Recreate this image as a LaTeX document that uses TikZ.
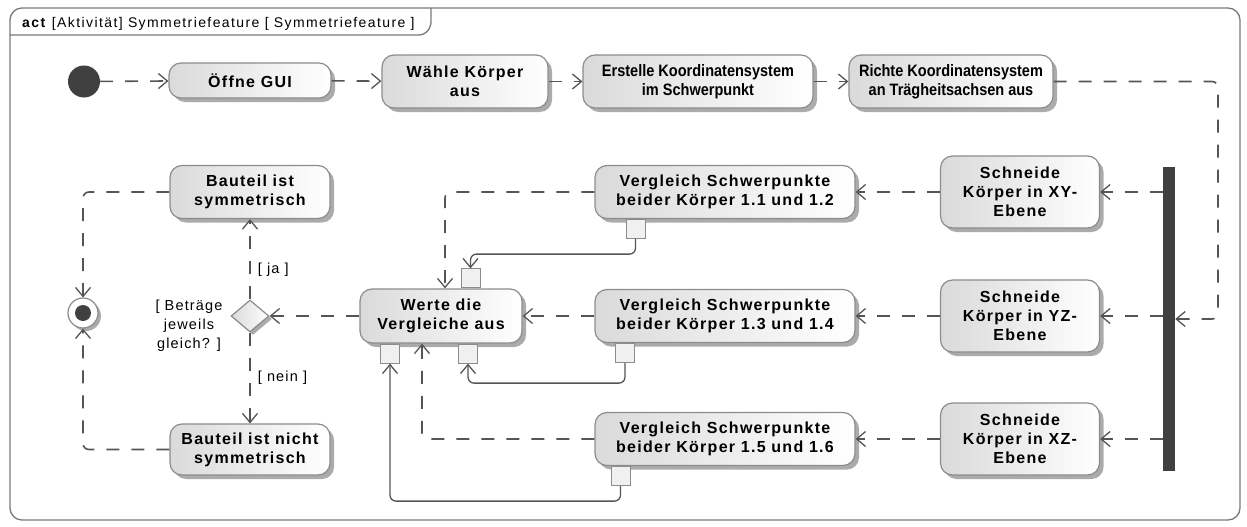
\documentclass[tikz,border=0pt]{standalone}
\usepackage{fontspec}
\setmainfont{Liberation Sans}[LetterSpace=8]
\newfontfamily\condfamily{Liberation Sans}[FakeStretch=0.88]
\newfontfamily\titlefamily{Liberation Sans}[LetterSpace=10]
\usetikzlibrary{arrows.meta,shapes.geometric,shadows,calc}

\definecolor{edgegray}{HTML}{8C8C8C}
\definecolor{flowgray}{HTML}{555555}
\definecolor{shadowgray}{HTML}{ABABAB}
\definecolor{inkgray}{HTML}{404040}
\definecolor{fillgray}{HTML}{DADADA}
\definecolor{framegray}{HTML}{7A7A7A}

\newcommand\actfont{\fontsize{16}{19}\selectfont\bfseries}
\newcommand\condactfont{\condfamily\fontsize{16.5}{19}\selectfont\bfseries}
\newcommand\lblfont{\fontsize{14.5}{19}\selectfont}
\newcommand\titlefont{\titlefamily\fontsize{14}{16}\selectfont}

\tikzset{
  action/.style={draw=edgegray, line width=1.2pt, rounded corners=12pt,
    left color=fillgray, right color=white, align=center, font=\actfont,
    inner sep=0pt,
    general shadow={fill=shadowgray, shadow xshift=4pt, shadow yshift=-4pt}},
  pinbox/.style={draw=edgegray, fill=black!6, line width=1pt,
    minimum size=19pt, inner sep=0pt},
  decision/.style={diamond, draw=edgegray, line width=1.2pt,
    left color=fillgray, right color=white, minimum width=38pt,
    minimum height=32pt, inner sep=0pt,
    general shadow={fill=shadowgray, shadow xshift=3pt, shadow yshift=-3pt}},
  ctrl/.style={draw=flowgray, line width=1.6pt, dash pattern=on 13pt off 12pt,
    rounded corners=6pt, -{Straight Barb[length=9pt,width=15pt,line width=1.3pt]}},
  objflow/.style={draw=flowgray, line width=1.3pt, rounded corners=6pt,
    -{Straight Barb[length=9pt,width=15pt,line width=1.3pt]}},
  lbl/.style={font=\lblfont, inner sep=0pt},
  framepath/.style={draw=framegray, line width=1.3pt}
}

\begin{document}
\begin{tikzpicture}[x=1pt, y=-1pt]
  \useasboundingbox (0,0) rectangle (1247,527);

  % diagram frame and title tab
  \draw[framepath, rounded corners=12pt] (10,8) rectangle (1240,520);
  \draw[framepath, rounded corners=5pt] (10,35) -- (424,35) -- (431,27) -- (431,8);
  \node[anchor=base west, inner sep=0pt, font=\titlefont] (title) at (22,27.5)
    {\textbf{act} [Aktivität] Symmetriefeature [ Symmetriefeature ]};

  % top row
  \node[circle, fill=inkgray, minimum size=32pt, inner sep=0pt] (init) at (84,81.5) {};
  \node[action, minimum width=162pt, minimum height=35pt] (gui) at (250,80.5) {Öffne GUI};
  \node[action, minimum width=166pt, minimum height=53pt] (koerper) at (465,81.5) {Wähle Körper\\aus};
  \node[action, font=\condactfont, minimum width=230pt, minimum height=53pt] (erstelle) at (698,81.5) {Erstelle Koordinatensystem\\im Schwerpunkt};
  \node[action, font=\condactfont, minimum width=204pt, minimum height=53pt] (richte) at (951,81.5) {Richte Koordinatensystem\\an Trägheitsachsen aus};

  % fork bar
  \node[fill=inkgray, minimum width=12pt, minimum height=304pt, inner sep=0pt] (fork) at (1169,319) {};
  \coordinate (turn) at (1218,81.5);

  % cutting actions
  \node[action, minimum width=159pt, minimum height=72pt] (sxy) at (1020,192) {Schneide\\Körper in XY-\\Ebene};
  \node[action, minimum width=159pt, minimum height=72pt] (syz) at (1020,316) {Schneide\\Körper in YZ-\\Ebene};
  \node[action, minimum width=159pt, minimum height=72pt] (sxz) at (1020,439) {Schneide\\Körper in XZ-\\Ebene};

  % comparison actions
  \node[action, minimum width=260pt, minimum height=53pt] (v1) at (725,192) {Vergleich Schwerpunkte\\beider Körper 1.1 und 1.2};
  \node[action, minimum width=260pt, minimum height=53pt] (v2) at (725,316) {Vergleich Schwerpunkte\\beider Körper 1.3 und 1.4};
  \node[action, minimum width=260pt, minimum height=53pt] (v3) at (725,439) {Vergleich Schwerpunkte\\beider Körper 1.5 und 1.6};
  \node[pinbox, anchor=north] (p1) at ([xshift=-89.5pt]v1.south) {};
  \node[pinbox, anchor=north] (p2) at ([xshift=-100pt]v2.south) {};
  \node[pinbox, anchor=north] (p3) at ([xshift=-104.5pt]v3.south) {};

  % evaluation
  \node[action, minimum width=162pt, minimum height=54pt] (werte) at (441,316) {Werte die\\Vergleiche aus};
  \node[pinbox, anchor=south] (wtop) at ([xshift=29.5pt]werte.north) {};
  \node[pinbox, anchor=north] (wbl) at ([xshift=-51pt]werte.south) {};
  \node[pinbox, anchor=north] (wbr) at ([xshift=27pt]werte.south) {};

  % decision and results
  \node[decision] (dia) at (250,316) {};
  \node[lbl, align=center] (dlbl) at (189,326) {[ Beträge\\jeweils\\gleich? ]};
  \node[action, minimum width=160pt, minimum height=53pt] (bsym) at (250,192) {Bauteil ist\\symmetrisch};
  \node[action, minimum width=160pt, minimum height=51pt] (bnicht) at (250,449.5) {Bauteil ist nicht\\symmetrisch};
  \node[circle, draw=edgegray, fill=white, line width=1.2pt, minimum size=30pt, inner sep=0pt,
    general shadow={fill=shadowgray, shadow xshift=3pt, shadow yshift=-3pt}] (fin) at (83,313) {};
  \fill[inkgray] (fin.center) circle (8pt);

  % control flows
  \draw[ctrl] (init) -- (gui);
  \draw[ctrl] (gui) -- (koerper);
  \draw[ctrl] (koerper) -- (erstelle);
  \draw[ctrl] (erstelle) -- (richte);
  \draw[ctrl] (richte.east) -- (turn) |- (fork.east);
  \draw[ctrl] (fork.west |- sxy.east) -- (sxy.east);
  \draw[ctrl] (fork.west |- syz.east) -- (syz.east);
  \draw[ctrl] (fork.west |- sxz.east) -- (sxz.east);
  \draw[ctrl] (sxy) -- (v1);
  \draw[ctrl] (syz) -- (v2);
  \draw[ctrl] (sxz) -- (v3);
  \draw[ctrl] (v1.west) -| ([xshift=4pt]werte.north);
  \draw[ctrl] (v2) -- (werte);
  \draw[ctrl] (v3.west) -| ([xshift=-19pt]werte.south);
  \draw[ctrl] (werte) -- (dia);
  \draw[ctrl] (dia) -- node[lbl, anchor=west, xshift=7pt, pos=0.37] (lja) {[ ja ]} (bsym);
  \draw[ctrl] (dia) -- node[lbl, anchor=west, xshift=7pt, pos=0.5] (lnein) {[ nein ]} (bnicht);
  \draw[ctrl] (bsym.west) -| (fin.north);
  \draw[ctrl] (bnicht.west) -| (fin.south);

  % object flows
  \draw[objflow] (p1.south) -- ++(0,15) -| (wtop.north);
  \draw[objflow] (p2.south) -- ++(0,20) -| (wbr.south);
  \draw[objflow] (p3.south) -- ++(0,15) -| (wbl.south);
\end{tikzpicture}
\end{document}
